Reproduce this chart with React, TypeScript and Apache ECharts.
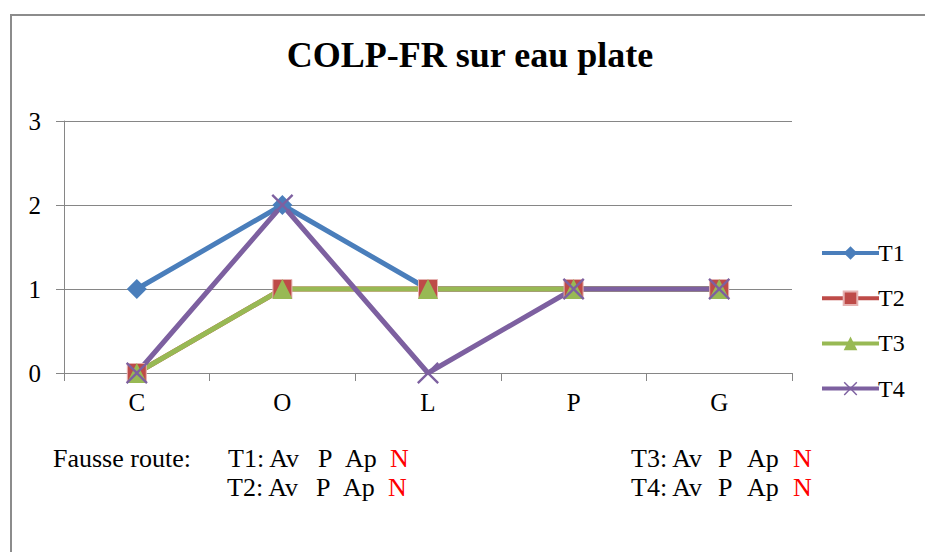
import React, { useEffect, useRef } from "react";
import * as echarts from "echarts";

const categories = ["C", "O", "L", "P", "G"];
const seriesNames = ["T1", "T2", "T3", "T4"];
const t1 = [1, 2, 1, 1, 1];
const t2 = [0, 1, 1, 1, 1];
const t3 = [0, 1, 1, 1, 1];
const t4 = [0, 2, 0, 1, 1];
const yTicks = [0, 1, 2, 3];

const colors = ["#4A7EBB", "#BE4B48", "#98B954", "#7D60A0"];
const crossPath =
  "path://M0,1.5L1.5,0L10,8.5L18.5,0L20,1.5L11.5,10L20,18.5L18.5,20L10,11.5L1.5,20L0,18.5L8.5,10Z";

const FONT = "'Liberation Serif', 'Times New Roman', serif";

export default function App() {
  const ref = useRef<HTMLDivElement>(null);
  useEffect(() => {
    if (!ref.current) return;
    const chart = echarts.init(ref.current, null, { renderer: "svg" });
    const data = [t1, t2, t3, t4];
    const symbols = ["diamond", "rect", "triangle", crossPath];
    const sizes = [20, 19, 20, 22];
    const textStyle = { fontFamily: FONT, fontSize: 26, fill: "#000" };
    const bottomTexts: any[] = [];
    const addText = (x: number, y: number, text: string, red = false) =>
      bottomTexts.push({
        type: "text",
        x,
        y,
        style: { ...textStyle, text, fill: red ? "#FF0000" : "#000", verticalAlign: "middle" },
      });
    addText(53, 458, "Fausse route:");
    const rows = [
      { x: 228, y: 458, label: "T1: Av", p: 318, ap: 345, n: 390 },
      { x: 227, y: 487, label: "T2: Av", p: 316, ap: 343, n: 388 },
      { x: 631, y: 458, label: "T3: Av", p: 718, ap: 747, n: 793 },
      { x: 631, y: 487, label: "T4: Av", p: 718, ap: 747, n: 793 },
    ];
    rows.forEach((r) => {
      addText(r.x, r.y, r.label);
      addText(r.p, r.y, "P");
      addText(r.ap, r.y, "Ap");
      addText(r.n, r.y, "N", true);
    });

    chart.setOption({
      animation: false,
      color: colors,
      grid: { left: 64, right: 133, top: 121, bottom: 179, containLabel: false },
      legend: {
        orient: "vertical",
        left: 820,
        top: 241,
        padding: 0,
        itemWidth: 57,
        itemHeight: 17,
        itemGap: 21.2,
        lineStyle: { width: 4 },
        textStyle: { fontFamily: FONT, fontSize: 24, color: "#000", padding: [0, 0, 0, -6] },
        data: seriesNames,
      },
      xAxis: {
        type: "category",
        data: categories,
        boundaryGap: true,
        axisLine: { show: true, lineStyle: { color: "#868686", width: 1 } },
        axisTick: { show: true, length: 8, interval: 0, lineStyle: { color: "#868686" } },
        axisLabel: { fontFamily: FONT, fontSize: 25, color: "#000", margin: 17 },
        splitLine: { show: false },
      },
      yAxis: {
        type: "value",
        min: yTicks[0],
        max: yTicks[yTicks.length - 1],
        interval: 1,
        axisLine: { show: true, lineStyle: { color: "#868686", width: 1 } },
        axisTick: { show: true, length: 8, lineStyle: { color: "#868686" } },
        axisLabel: { fontFamily: FONT, fontSize: 25, color: "#000", margin: 23 },
        splitLine: { show: true, lineStyle: { color: "#868686", width: 1 } },
      },
      series: seriesNames.map((name, i) => ({
        name,
        type: "line",
        data: data[i],
        symbol: symbols[i],
        symbolSize: sizes[i],
        showAllSymbol: true,
        lineStyle: { width: 5, color: colors[i] },
        itemStyle: {
          color: colors[i],
          borderColor: i === 1 ? "#E6B3B2" : colors[i],
          borderWidth: i === 1 ? 1 : 0,
        },
        emphasis: { disabled: true },
      })),
      graphic: [
        {
          type: "rect",
          shape: { x: 11, y: 15, width: 1000, height: 1000 },
          style: { fill: "none", stroke: "#8C8C8C", lineWidth: 2 },
          silent: true,
        },
        {
          type: "text",
          x: 470,
          y: 55,
          style: {
            text: "COLP-FR sur eau plate",
            fontFamily: FONT,
            fontSize: 36,
            fontWeight: "bold",
            fill: "#000",
            align: "center",
            verticalAlign: "middle",
          },
        },
        ...bottomTexts,
      ],
    });
    return () => chart.dispose();
  }, []);
  return (
    <div
      ref={ref}
      style={{ position: "absolute", left: 0, top: 0, width: 925, height: 552, background: "#fff" }}
    />
  );
}
